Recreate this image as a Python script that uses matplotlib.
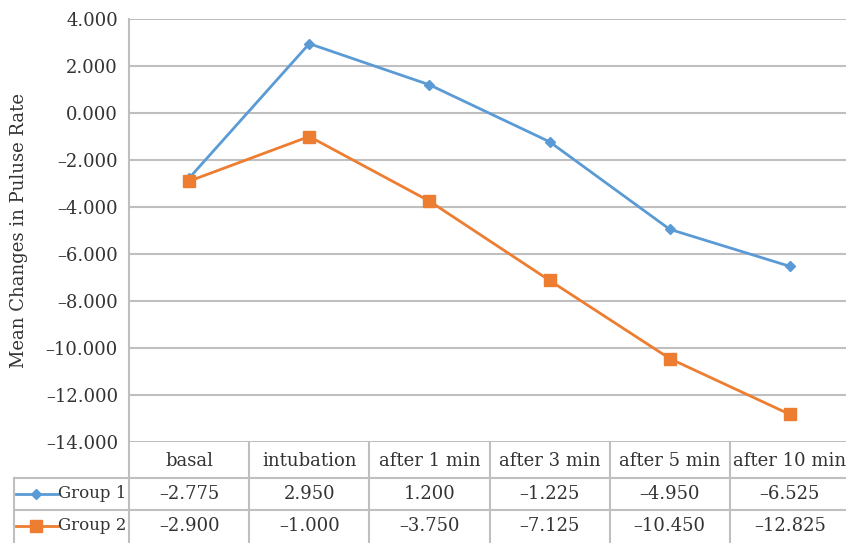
import matplotlib.pyplot as plt
from matplotlib.lines import Line2D

categories = ["basal", "intubation", "after 1 min", "after 3 min", "after 5 min", "after 10 min"]
group1 = [-2.775, 2.950, 1.200, -1.225, -4.950, -6.525]
group2 = [-2.900, -1.000, -3.750, -7.125, -10.450, -12.825]
series_names = ["Group 1", "Group 2"]
y_ticks = [4, 2, 0, -2, -4, -6, -8, -10, -12, -14]

plt.rcParams['font.family'] = ['DejaVu Serif']
W, H = 846, 543
fig = plt.figure(figsize=(W / 100, H / 100), dpi=100)

grid_c = "#bfbfbf"
txt_c = "#333333"
blue = "#5b9bd5"
orange = "#ed7d31"
fs = 13


def fmt(v):
    s = "%.3f" % abs(v)
    return ("\u2013" + s) if v < 0 else s


# plot area in pixels
left, right, top, bottom = 129, 850, 19, 442
ax = fig.add_axes([left / W, 1 - bottom / H, (right - left) / W, (bottom - top) / H])
x = list(range(len(categories)))
ax.plot(x, group1, color=blue, lw=2, marker="D", ms=5, zorder=3)
ax.plot(x, group2, color=orange, lw=2, marker="s", ms=8, zorder=3)
ax.set_xlim(-0.5, len(categories) - 0.5)
ax.set_ylim(-14, 4)
ax.set_yticks(y_ticks)
ax.set_yticklabels([fmt(v) for v in y_ticks])
ax.set_xticks([])
for v in y_ticks:
    ax.axhline(v, color=grid_c, lw=1.5, zorder=0)
for s in ["top", "right", "bottom"]:
    ax.spines[s].set_visible(False)
ax.spines["left"].set_color(grid_c)
ax.spines["left"].set_linewidth(1.5)
ax.tick_params(axis="y", length=0, pad=8, labelsize=fs, labelcolor=txt_c)
ax.set_ylabel("Mean Changes in Puluse Rate", fontsize=fs, color=txt_c)
ax.yaxis.set_label_coords(-(left - 28) / (right - left), 0.5)

# data table below the plot, in pixel coordinates
tb = fig.add_axes([0, 0, 1, 1 - bottom / H], zorder=-1)
tb.set_xlim(0, W)
tb.set_ylim(H, bottom)
tb.axis("off")
col_w = (right - left) / len(categories)
r1, r2, r3 = 478, 510, 548
tb.plot([14, W], [r1, r1], color=grid_c, lw=1.5)
tb.plot([14, W], [r2, r2], color=grid_c, lw=1.5)
tb.plot([14, 14], [r1, r3], color=grid_c, lw=1.5)
for i in range(len(categories) + 1):
    xc = left + i * col_w
    tb.plot([xc, xc], [bottom, r3], color=grid_c, lw=1.5)
for i, c in enumerate(categories):
    xc = left + (i + 0.5) * col_w
    tb.text(xc, (bottom + r1) / 2 + 1, c, ha="center", va="center", fontsize=fs, color=txt_c)
    tb.text(xc, (r1 + r2) / 2, fmt(group1[i]), ha="center", va="center", fontsize=fs, color=txt_c)
    tb.text(xc, (r2 + r3 - 6) / 2, fmt(group2[i]), ha="center", va="center", fontsize=fs, color=txt_c)

# legend keys inside the table
for (yy, col, mk, ms, name) in [((r1 + r2) / 2, blue, "D", 5, series_names[0]),
                                ((r2 + r3 - 6) / 2, orange, "s", 8, series_names[1])]:
    tb.add_line(Line2D([16, 58], [yy, yy], color=col, lw=2))
    tb.plot([36], [yy], color=col, marker=mk, ms=ms)
    tb.text(58, yy, name, ha="left", va="center", fontsize=12, color=txt_c)

fig.savefig("out.png", dpi=100)
